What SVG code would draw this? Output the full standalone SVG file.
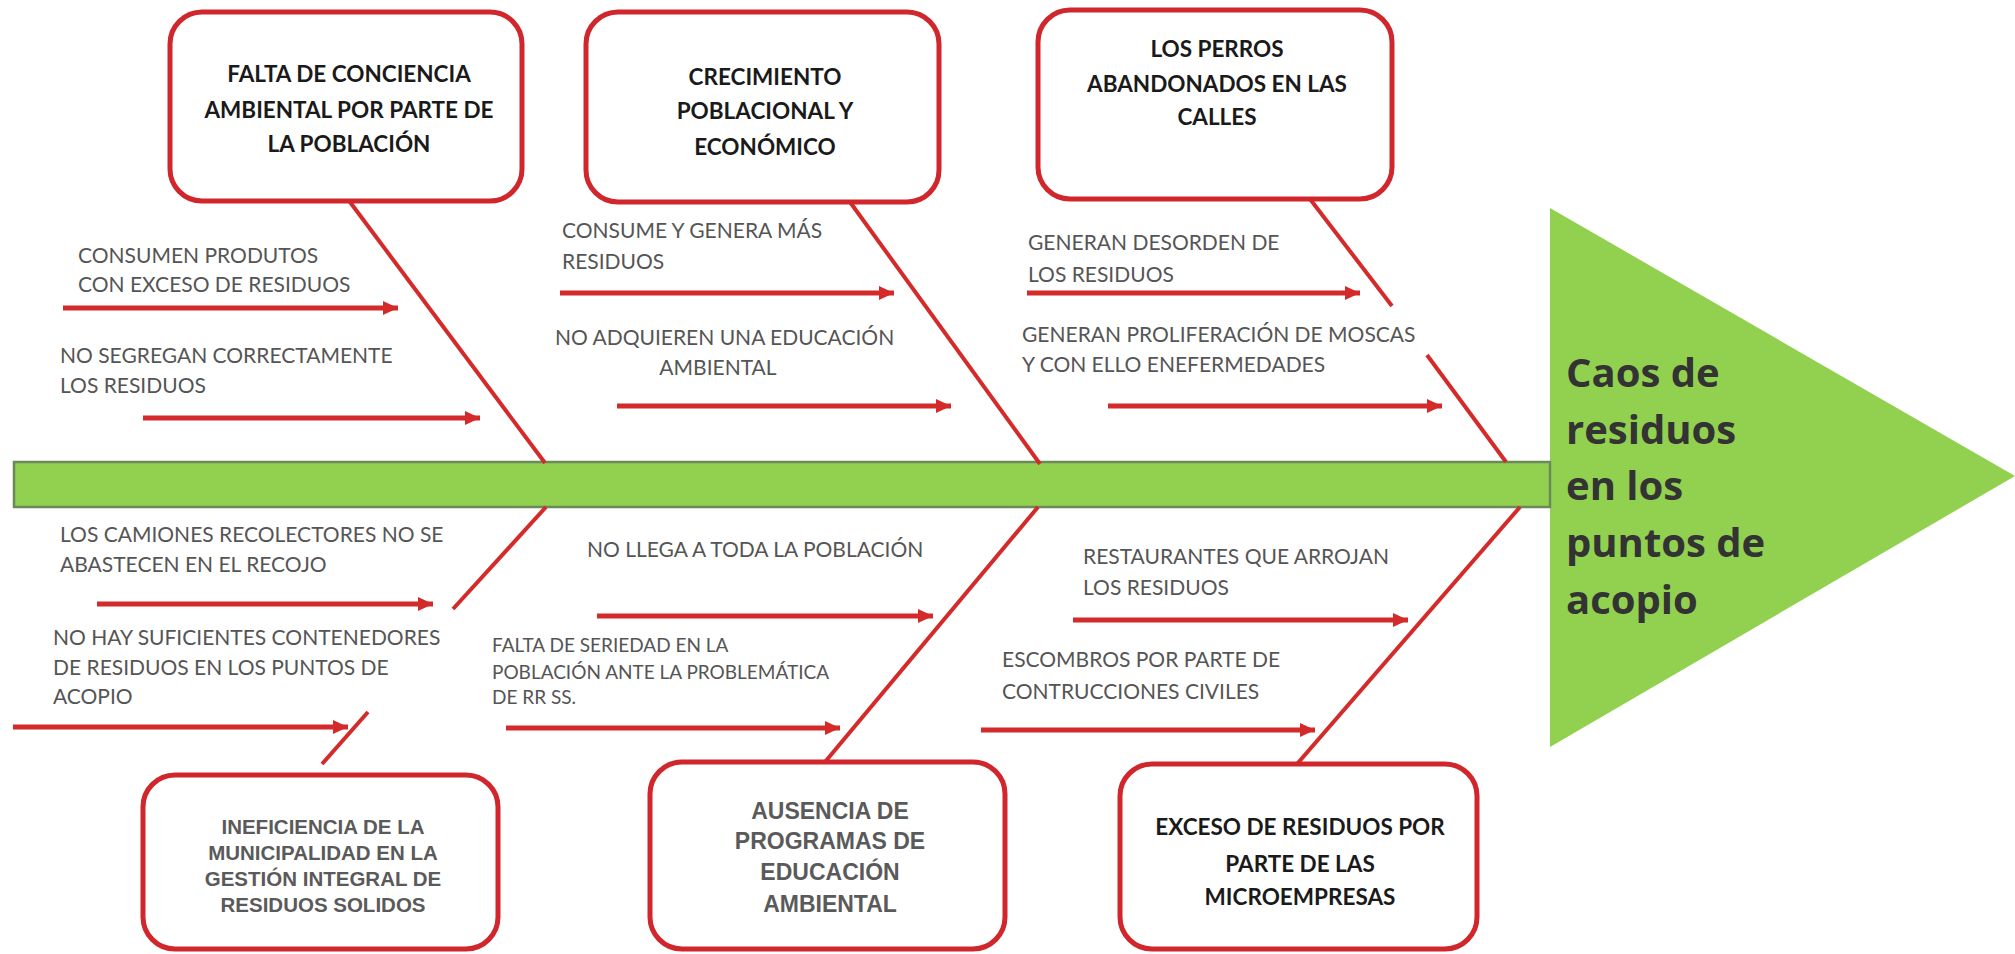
<svg xmlns="http://www.w3.org/2000/svg" width="2015" height="954" viewBox="0 0 2015 954">
<style>
.box{fill:#fff;stroke:#d0262c;stroke-width:5}
.cb{font-family:Lato,"Open Sans",sans-serif;font-weight:bold;font-size:22.5px;fill:#1a1a1a;text-anchor:middle}
.ab{font-family:"Liberation Sans",Arial,sans-serif;font-weight:bold;fill:#5a5a5a;text-anchor:middle}
.lbl{font-family:Lato,"Open Sans",sans-serif;font-size:21px;fill:#555}
.sm{font-family:Lato,"Open Sans",sans-serif;font-size:19px;fill:#555}
.bone{stroke:#d42a2a;stroke-width:4;fill:none}
.arr{stroke:#d42a2a;stroke-width:5;fill:none;marker-end:url(#ah)}
.title{font-family:"Open Sans",Lato,sans-serif;font-weight:bold;font-size:40px;fill:#333}
</style>
<defs>
<marker id="ah" markerWidth="16" markerHeight="16" refX="15" refY="8" orient="auto" markerUnits="userSpaceOnUse">
<path d="M0,1 L15,8 L0,15 z" fill="#d42a2a"/>
</marker>
</defs>
<rect width="2015" height="954" fill="#fff"/>

<g id="head">
<polygon points="1550,208 2015,476 1550,747" fill="#92d050"/>
<text class="title" x="1566" y="387">Caos de</text>
<text class="title" x="1566" y="444">residuos</text>
<text class="title" x="1566" y="500">en los</text>
<text class="title" x="1566" y="557">puntos de</text>
<text class="title" x="1566" y="614">acopio</text>
</g>

<g id="spine">
<rect x="14" y="462" width="1536" height="45" fill="#92d050" stroke="#6a8a5a" stroke-width="2.5"/>
</g>

<g id="connectors">
<line class="bone" x1="350" y1="202" x2="545" y2="463"/>
<line class="bone" x1="850" y1="202" x2="1040" y2="464"/>
<line class="bone" x1="1310" y1="199" x2="1392" y2="306"/>
<line class="bone" x1="1427" y1="355" x2="1506" y2="462"/>
<line class="bone" x1="546" y1="507" x2="453" y2="609"/>
<line class="bone" x1="368" y1="712" x2="322" y2="764"/>
<line class="bone" x1="1038" y1="507" x2="825" y2="762"/>
<line class="bone" x1="1520" y1="507" x2="1297" y2="764"/>

<line class="arr" x1="63" y1="308" x2="398" y2="308"/>
<line class="arr" x1="143" y1="418" x2="480" y2="418"/>
<line class="arr" x1="560" y1="293" x2="894" y2="293"/>
<line class="arr" x1="617" y1="406" x2="951" y2="406"/>
<line class="arr" x1="1027" y1="293" x2="1360" y2="293"/>
<line class="arr" x1="1108" y1="406" x2="1442" y2="406"/>

<line class="arr" x1="97" y1="604" x2="433" y2="604"/>
<line class="arr" x1="13" y1="727" x2="348" y2="727"/>
<line class="arr" x1="597" y1="616" x2="933" y2="616"/>
<line class="arr" x1="506" y1="728" x2="840" y2="728"/>
<line class="arr" x1="1073" y1="620" x2="1408" y2="620"/>
<line class="arr" x1="981" y1="730" x2="1315" y2="730"/>
</g>

<g id="n-falta">
<rect class="box" x="170" y="12" width="352" height="189" rx="32"/>
<text class="cb" x="349" y="82">FALTA DE CONCIENCIA</text>
<text class="cb" x="349" y="118">AMBIENTAL POR PARTE DE</text>
<text class="cb" x="349" y="152">LA POBLACIÓN</text>
</g>
<g id="n-crecimiento">
<rect class="box" x="586" y="12" width="353" height="190" rx="32"/>
<text class="cb" x="765" y="85">CRECIMIENTO</text>
<text class="cb" x="765" y="119">POBLACIONAL Y</text>
<text class="cb" x="765" y="155">ECONÓMICO</text>
</g>
<g id="n-perros">
<rect class="box" x="1038" y="10" width="354" height="189" rx="32"/>
<text class="cb" x="1217" y="57">LOS PERROS</text>
<text class="cb" x="1217" y="92">ABANDONADOS EN LAS</text>
<text class="cb" x="1217" y="125">CALLES</text>
</g>
<g id="n-ineficiencia">
<rect class="box" x="143" y="775" width="355" height="174" rx="32"/>
<text class="ab" style="font-size:20.5px" x="323" y="834">INEFICIENCIA DE LA</text>
<text class="ab" style="font-size:20.5px" x="323" y="860">MUNICIPALIDAD EN LA</text>
<text class="ab" style="font-size:20.5px" x="323" y="886">GESTIÓN INTEGRAL DE</text>
<text class="ab" style="font-size:20.5px" x="323" y="912">RESIDUOS SOLIDOS</text>
</g>
<g id="n-ausencia">
<rect class="box" x="650" y="762" width="355" height="187" rx="32"/>
<text class="ab" style="font-size:23px" x="830" y="819">AUSENCIA DE</text>
<text class="ab" style="font-size:23px" x="830" y="849">PROGRAMAS DE</text>
<text class="ab" style="font-size:23px" x="830" y="880">EDUCACIÓN</text>
<text class="ab" style="font-size:23px" x="830" y="912">AMBIENTAL</text>
</g>
<g id="n-exceso">
<rect class="box" x="1120" y="764" width="357" height="185" rx="32"/>
<text class="cb" x="1300" y="835">EXCESO DE RESIDUOS POR</text>
<text class="cb" x="1300" y="872">PARTE DE LAS</text>
<text class="cb" x="1300" y="905">MICROEMPRESAS</text>
</g>

<g id="labels">
<text class="lbl" x="78" y="263">CONSUMEN PRODUTOS</text>
<text class="lbl" x="78" y="292">CON EXCESO DE RESIDUOS</text>
<text class="lbl" x="60" y="363">NO SEGREGAN CORRECTAMENTE</text>
<text class="lbl" x="60" y="393">LOS RESIDUOS</text>
<text class="lbl" x="562" y="238">CONSUME Y GENERA MÁS</text>
<text class="lbl" x="562" y="269">RESIDUOS</text>
<text class="lbl" x="555" y="345">NO ADQUIEREN UNA EDUCACIÓN</text>
<text class="lbl" x="718" y="375" text-anchor="middle">AMBIENTAL</text>
<text class="lbl" x="1028" y="250">GENERAN DESORDEN DE</text>
<text class="lbl" x="1028" y="282">LOS RESIDUOS</text>
<text class="lbl" x="1022" y="342">GENERAN PROLIFERACIÓN DE MOSCAS</text>
<text class="lbl" x="1022" y="372">Y CON ELLO ENEFERMEDADES</text>
<text class="lbl" x="60" y="542">LOS CAMIONES RECOLECTORES NO SE</text>
<text class="lbl" x="60" y="572">ABASTECEN EN EL RECOJO</text>
<text class="lbl" x="53" y="645">NO HAY SUFICIENTES CONTENEDORES</text>
<text class="lbl" x="53" y="675">DE RESIDUOS EN LOS PUNTOS DE</text>
<text class="lbl" x="53" y="704">ACOPIO</text>
<text class="lbl" x="587" y="557">NO LLEGA A TODA LA POBLACIÓN</text>
<text class="sm" x="492" y="652">FALTA DE SERIEDAD EN LA</text>
<text class="sm" x="492" y="679">POBLACIÓN ANTE LA PROBLEMÁTICA</text>
<text class="sm" x="492" y="704">DE RR SS.</text>
<text class="lbl" x="1083" y="564">RESTAURANTES QUE ARROJAN</text>
<text class="lbl" x="1083" y="595">LOS RESIDUOS</text>
<text class="lbl" x="1002" y="667">ESCOMBROS POR PARTE DE</text>
<text class="lbl" x="1002" y="699">CONTRUCCIONES CIVILES</text>
</g>
</svg>
